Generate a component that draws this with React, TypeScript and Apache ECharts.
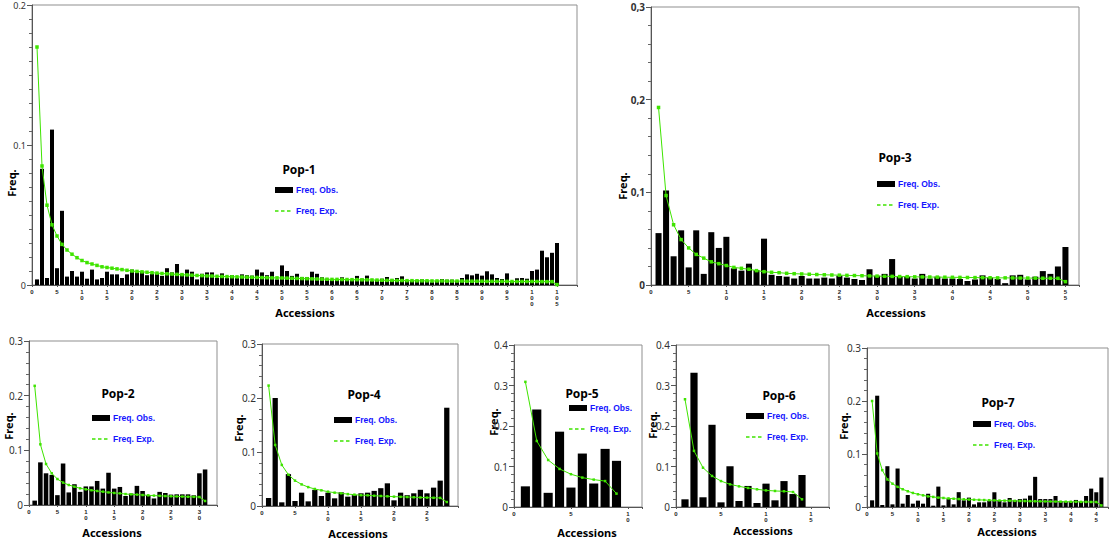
import React, { useEffect, useRef } from "react";
import * as echarts from "echarts";

// ---------- data ----------
const xTickStep = 5;

const pop1Obs = [
  0.004, 0.083, 0.005, 0.111, 0.012, 0.053, 0.006, 0.010, 0.006, 0.0095,
  0.0045, 0.011, 0.004, 0.005, 0.0095, 0.0076, 0.0076, 0.005, 0.0076, 0.011,
  0.009, 0.0095, 0.007, 0.008, 0.0083, 0.0065, 0.012, 0.009, 0.015, 0.008,
  0.011, 0.0095, 0.004, 0.008, 0.009, 0.009, 0.005, 0.0083, 0.005, 0.007,
  0.005, 0.0076, 0.007, 0.0067, 0.011, 0.009, 0.007, 0.0095, 0.004, 0.014,
  0.010, 0.0065, 0.008, 0.0055, 0.0055, 0.0095, 0.008, 0.0055, 0.0045, 0.0035,
  0.004, 0.0055, 0.0035, 0.0035, 0.0065, 0.0045, 0.0067, 0.003, 0.0036, 0.0045,
  0.0057, 0.0038, 0.005, 0.0062, 0.003, 0.003, 0.0036, 0.004, 0.003, 0.002,
  0.003, 0.0043, 0.0038, 0.0038, 0.003, 0.005, 0.0076, 0.0069, 0.008, 0.0067,
  0.0098, 0.0076, 0.005, 0.0043, 0.0083, 0.0026, 0.0048, 0.005, 0.0045, 0.010,
  0.011, 0.0245, 0.0198, 0.023, 0.030,
];
const pop1Exp = [
  0.170, 0.085, 0.057, 0.043, 0.035, 0.029, 0.025, 0.022, 0.0195, 0.0175,
  0.016, 0.015, 0.014, 0.013, 0.0125, 0.012, 0.0115, 0.011, 0.0105, 0.010,
  0.0097, 0.0094, 0.0091, 0.0088, 0.0085, 0.0082, 0.008, 0.0078, 0.0076, 0.0074,
  0.0072, 0.007, 0.0068, 0.0067, 0.0065, 0.0064, 0.0062, 0.0061, 0.006, 0.0059,
  0.0058, 0.0057, 0.0056, 0.0055, 0.0054, 0.0053, 0.0052, 0.0051, 0.0051, 0.005,
  0.0049, 0.0048, 0.0047, 0.0046, 0.0045, 0.0044, 0.0043, 0.0042, 0.0041, 0.004,
  0.004, 0.0039, 0.0039, 0.0038, 0.0038, 0.0037, 0.0037, 0.0036, 0.0035, 0.0034,
  0.0033, 0.0033, 0.0032, 0.0032, 0.0031, 0.0031, 0.003, 0.003, 0.003, 0.0029,
  0.0029, 0.0029, 0.0028, 0.0028, 0.0028, 0.0028, 0.0027, 0.0027, 0.0027, 0.0027,
  0.0026, 0.0026, 0.0026, 0.0026, 0.0026, 0.0025, 0.0025, 0.0025, 0.0025, 0.0025,
  0.0025, 0.0024, 0.0024, 0.0024, 0.0003,
];

const pop3Obs = [
  0.056, 0.102, 0.031, 0.059, 0.019, 0.059, 0.012, 0.057, 0.040, 0.052,
  0.018, 0.0155, 0.023, 0.016, 0.050, 0.011, 0.0097, 0.009, 0.007, 0.0097,
  0.007, 0.007, 0.008, 0.007, 0.010, 0.008, 0.0065, 0.0054, 0.017, 0.010,
  0.012, 0.028, 0.009, 0.009, 0.007, 0.012, 0.007, 0.009, 0.007, 0.007,
  0.0065, 0.0043, 0.006, 0.0104, 0.008, 0.0065, 0.002, 0.0104, 0.011, 0.006,
  0.009, 0.015, 0.012, 0.020, 0.041,
];
const pop3Exp = [
  0.1916, 0.0965, 0.065, 0.049, 0.040, 0.033, 0.029, 0.025, 0.023, 0.021,
  0.019, 0.018, 0.017, 0.0155, 0.0144, 0.0137, 0.0133, 0.0126, 0.0122, 0.0119,
  0.0116, 0.0113, 0.011, 0.0108, 0.0106, 0.0104, 0.0102, 0.010, 0.0098, 0.0096,
  0.0094, 0.0093, 0.0091, 0.009, 0.0088, 0.0087, 0.0086, 0.0085, 0.0084, 0.0083,
  0.0082, 0.0081, 0.008, 0.0079, 0.0078, 0.0077, 0.0077, 0.0076, 0.0075, 0.0075,
  0.0074, 0.0073, 0.0073, 0.0072, 0.0036,
];

const pop2Obs = [
  0.008, 0.078, 0.058, 0.055, 0.018, 0.076, 0.023, 0.038, 0.024, 0.034,
  0.034, 0.044, 0.030, 0.059, 0.030, 0.033, 0.0165, 0.021, 0.035, 0.0256,
  0.0177, 0.012, 0.024, 0.022, 0.019, 0.0195, 0.0195, 0.0195, 0.0177, 0.058,
  0.065,
];
const pop2Exp = [
  0.218, 0.111, 0.075, 0.058, 0.0475, 0.041, 0.0366, 0.0335, 0.0305, 0.0287,
  0.027, 0.0256, 0.0244, 0.023, 0.022, 0.0213, 0.020, 0.0195, 0.019, 0.0183,
  0.0177, 0.0172, 0.0168, 0.0164, 0.016, 0.0157, 0.0154, 0.0151, 0.0149, 0.0146,
  0.0073,
];

const pop4Obs = [
  0.0148, 0.200, 0.0068, 0.059, 0.0093, 0.0247, 0.0086, 0.030, 0.0185, 0.0247,
  0.0142, 0.0253, 0.0173, 0.020, 0.0235, 0.0247, 0.028, 0.033, 0.042, 0.0105,
  0.0247, 0.020, 0.0235, 0.030, 0.0235, 0.034, 0.047, 0.182,
];
const pop4Exp = [
  0.223, 0.113, 0.076, 0.058, 0.047, 0.040, 0.035, 0.0315, 0.029, 0.0265,
  0.0247, 0.0235, 0.022, 0.021, 0.020, 0.0198, 0.019, 0.0185, 0.018, 0.0173,
  0.017, 0.0166, 0.0162, 0.0158, 0.0155, 0.0152, 0.015, 0.0074,
];

const pop5Obs = [0.051, 0.241, 0.035, 0.186, 0.048, 0.132, 0.058, 0.1435, 0.114];
const pop5Exp = [0.309, 0.163, 0.116, 0.094, 0.081, 0.0726, 0.0676, 0.064, 0.033];

const pop6Obs = [
  0.019, 0.3315, 0.024, 0.203, 0.0115, 0.1006, 0.0148, 0.052, 0.0099, 0.0577,
  0.0165, 0.064, 0.032, 0.079,
];
const pop6Exp = [
  0.266, 0.1386, 0.097, 0.0767, 0.064, 0.056, 0.051, 0.047, 0.0437, 0.041,
  0.0396, 0.0388, 0.037, 0.019,
];

const pop7Obs = [
  0.0126, 0.210, 0.0038, 0.077, 0.005, 0.0726, 0.0063, 0.0227, 0.0063, 0.012,
  0.0063, 0.025, 0.0025, 0.0385, 0.003, 0.015, 0.005, 0.028, 0.0126, 0.0177,
  0.005, 0.0088, 0.0088, 0.0114, 0.0278, 0.0114, 0.0088, 0.017, 0.0126, 0.015,
  0.0158, 0.0215, 0.0569, 0.015, 0.015, 0.015, 0.0208, 0.0114, 0.010, 0.010,
  0.0133, 0.010, 0.0208, 0.0347, 0.0278, 0.0556,
];
const pop7Exp = [
  0.200, 0.101, 0.0695, 0.052, 0.044, 0.038, 0.0335, 0.0297, 0.0265, 0.024,
  0.022, 0.020, 0.019, 0.0177, 0.017, 0.0162, 0.0156, 0.015, 0.0145, 0.014,
  0.0137, 0.0134, 0.0131, 0.0128, 0.0125, 0.0122, 0.012, 0.0118, 0.0116, 0.0114,
  0.0112, 0.011, 0.0108, 0.0107, 0.0105, 0.0104, 0.0102, 0.0101, 0.010, 0.0099,
  0.0098, 0.0097, 0.0096, 0.0095, 0.0094, 0.003,
];

const obsLabel = "Freq. Obs.";
const expLabel = "Freq. Exp.";
const yName = "Freq.";
const xName = "Accessions";

// ---------- layout / style ----------
const GREEN = "#3fe400";
const LEGEND_BLUE = "#1414ff";

const panels = [
  { name: "Pop-1", obs: pop1Obs, exp: pop1Exp, left: 32, top: 5, width: 545, height: 280, xMax: 109, yMax: 0.2, minor: 10, comma: false, yFont: 9, title: [299, 169], legend: [275, 190], freq: [11, 183], acc: [305, 312], sym: 3.5 },
  { name: "Pop-3", obs: pop3Obs, exp: pop3Exp, left: 651, top: 7, width: 428, height: 278, xMax: 56.8, yMax: 0.3, minor: 5, comma: true, yFont: 10, title: [895, 157], legend: [877, 184], freq: [622, 186], acc: [896, 312], sym: 3.5 },
  { name: "Pop-2", obs: pop2Obs, exp: pop2Exp, left: 29, top: 341, width: 188, height: 164, xMax: 33.1, yMax: 0.3, minor: 5, comma: false, yFont: 10, title: [118, 393], legend: [92, 418], freq: [8, 426], acc: [112, 532], sym: 2.5 },
  { name: "Pop-4", obs: pop4Obs, exp: pop4Exp, left: 262, top: 344, width: 196, height: 162, xMax: 29.7, yMax: 0.3, minor: 5, comma: false, yFont: 10, title: [364, 394], legend: [334, 420], freq: [238, 428], acc: [358, 533], sym: 2.5 },
  { name: "Pop-5", obs: pop5Obs, exp: pop5Exp, left: 514, top: 345, width: 128, height: 162, xMax: 11.24, yMax: 0.4, minor: 5, comma: false, yFont: 10, title: [582, 393], legend: [569, 408], freq: [493, 422], acc: [587, 532], sym: 2.5 },
  { name: "Pop-6", obs: pop6Obs, exp: pop6Exp, left: 676, top: 345, width: 153, height: 162, xMax: 17, yMax: 0.4, minor: 5, comma: false, yFont: 10, title: [779, 395], legend: [746, 416], freq: [652, 425], acc: [763, 530], sym: 2.5 },
  { name: "Pop-7", obs: pop7Obs, exp: pop7Exp, left: 867, top: 348, width: 241, height: 159, xMax: 47.3, yMax: 0.3, minor: 5, comma: false, yFont: 10, title: [998, 402], legend: [973, 424], freq: [843, 426], acc: [1007, 531], sym: 2.5 },
];

export default function App() {
  const ref = useRef<HTMLDivElement>(null);

  useEffect(() => {
    if (!ref.current) return;
    const chart = echarts.init(ref.current, null, { renderer: "svg" });

    const grid: any[] = [];
    const xAxis: any[] = [];
    const yAxis: any[] = [];
    const series: any[] = [];
    const graphic: any[] = [];

    panels.forEach((p, i) => {
      grid.push({
        left: p.left,
        top: p.top,
        width: p.width,
        height: p.height,
        show: true,
        borderColor: "#8f8f8f",
        borderWidth: 1,
        backgroundColor: "transparent",
      });
      xAxis.push({
        type: "value",
        gridIndex: i,
        min: 0,
        max: p.xMax,
        interval: xTickStep,
        splitLine: { show: false },
        axisLine: { show: true, onZero: false, lineStyle: { color: "#555" } },
        axisTick: { show: true, length: 2, lineStyle: { color: "#555" } },
        axisLabel: {
          formatter: (v: number) => {
            const r = Math.round(v);
            if (Math.abs(v - r) > 1e-6 || r % xTickStep !== 0 || v > p.xMax - 0.5) return "";
            return String(r).split("").join("\n");
          },
          fontSize: 6,
          lineHeight: 6,
          fontWeight: "bold",
          fontFamily: "Liberation Sans",
          color: "#222",
          margin: 4,
        },
      });
      yAxis.push({
        type: "value",
        gridIndex: i,
        min: 0,
        max: p.yMax,
        interval: 0.1,
        splitLine: { show: false },
        axisLine: { show: true, lineStyle: { color: "#555" } },
        axisTick: { show: true, length: 5, lineStyle: { color: "#555" } },
        minorTick: { show: true, splitNumber: p.minor, length: 3, lineStyle: { color: "#666" } },
        minorSplitLine: { show: false },
        axisLabel: {
          formatter: (v: number) => {
            if (Math.abs(v) < 1e-9) return "0";
            const s = v.toFixed(1);
            return p.comma ? s.replace(".", ",") : s;
          },
          fontSize: p.yFont,
          fontFamily: "Noto Sans",
          fontWeight: p.comma ? "bold" : "normal",
          color: "#333",
          margin: 6,
          padding: [1, 0, 0, 0],
        },
      });
      series.push({
        type: "bar",
        name: obsLabel,
        xAxisIndex: i,
        yAxisIndex: i,
        data: p.obs.map((v, k) => [k + 1, v]),
        barWidth: (0.8 * p.width) / p.xMax,
        itemStyle: { color: "#000" },
        silent: true,
      });
      series.push({
        type: "line",
        name: expLabel,
        xAxisIndex: i,
        yAxisIndex: i,
        data: p.exp.map((v, k) => [k + 1, v]),
        symbol: "rect",
        symbolSize: p.sym,
        showSymbol: true,
        showAllSymbol: true,
        lineStyle: { color: GREEN, width: 1 },
        itemStyle: { color: GREEN },
        z: 3,
        silent: true,
      });

      // title
      graphic.push({
        type: "text",
        x: p.title[0],
        y: p.title[1],
        style: { text: p.name, font: 'bold 12px "Noto Sans"', fill: "#000", align: "center", verticalAlign: "middle" },
      });
      // axis names
      graphic.push({
        type: "text",
        x: p.freq[0],
        y: p.freq[1],
        rotation: Math.PI / 2,
        style: { text: yName, font: 'bold 11px "Noto Sans"', fill: "#000", align: "center", verticalAlign: "middle" },
      });
      graphic.push({
        type: "text",
        x: p.acc[0],
        y: p.acc[1],
        style: { text: xName, font: 'bold 11px "Noto Sans"', fill: "#000", align: "center", verticalAlign: "middle" },
      });
      // legend
      const lx = p.legend[0];
      const ly = p.legend[1];
      graphic.push({
        type: "rect",
        shape: { x: lx, y: ly - 3, width: 18, height: 6 },
        style: { fill: "#000" },
      });
      graphic.push({
        type: "text",
        x: lx + 21,
        y: ly,
        style: { text: obsLabel, font: 'bold 8.5px "Liberation Sans"', fill: LEGEND_BLUE, align: "left", verticalAlign: "middle" },
      });
      graphic.push({
        type: "line",
        shape: { x1: lx, y1: ly + 21, x2: lx + 18, y2: ly + 21 },
        style: { stroke: GREEN, lineWidth: 1.5, lineDash: [3.5, 2.5] },
      });
      graphic.push({
        type: "text",
        x: lx + 21,
        y: ly + 21,
        style: { text: expLabel, font: 'bold 8.5px "Liberation Sans"', fill: LEGEND_BLUE, align: "left", verticalAlign: "middle" },
      });
    });

    chart.setOption({
      animation: false,
      backgroundColor: "#fff",
      grid,
      xAxis,
      yAxis,
      series,
      graphic,
    });

    return () => {
      chart.dispose();
    };
  }, []);

  return (
    <div
      ref={ref}
      style={{ position: "fixed", left: 0, top: 0, width: 1114, height: 539, background: "#fff" }}
    />
  );
}
